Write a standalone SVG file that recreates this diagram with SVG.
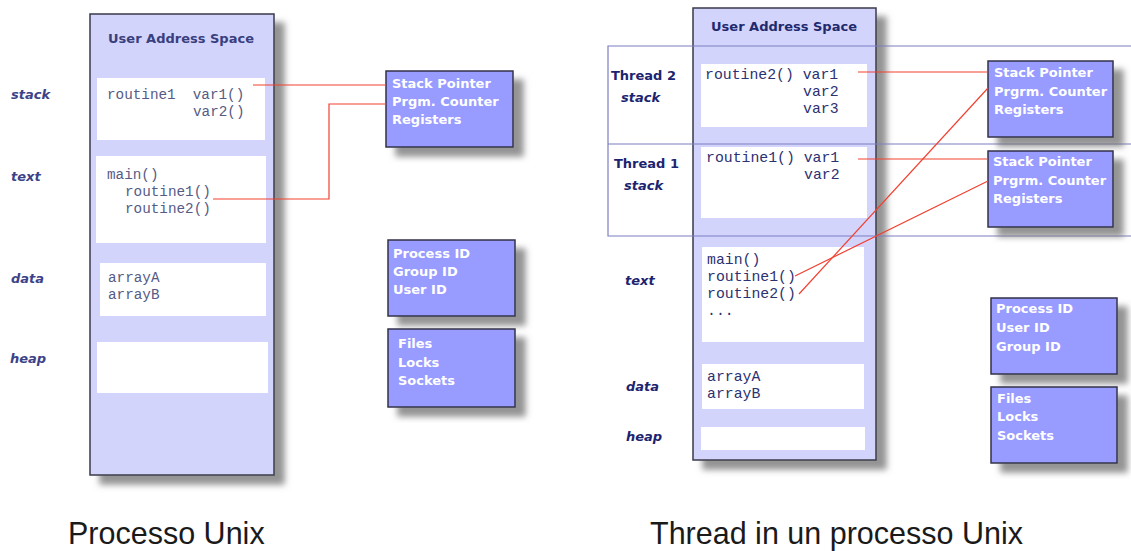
<svg xmlns="http://www.w3.org/2000/svg" width="1131" height="551" viewBox="0 0 1131 551">
  <defs>
    <filter id="shadow" x="-10%" y="-10%" width="130%" height="130%">
      <feDropShadow dx="10" dy="9" stdDeviation="3.2" flood-color="#6f6f6f" flood-opacity="0.75"/>
    </filter>
  </defs>
  <style>
    .space { fill: #d3d4fc; stroke: #3a3a4a; stroke-width: 1.5; }
    .slot { fill: #ffffff; }
    .reg { fill: #989bff; stroke: #33334a; stroke-width: 1.5; }
    .title { font-family: "DejaVu Sans", Verdana, sans-serif; font-weight: bold; font-size: 13px; text-anchor: middle; }
    .seg { font-family: "DejaVu Sans", Verdana, sans-serif; font-weight: bold; font-style: italic; font-size: 13px; }
    .thr { font-family: "DejaVu Sans", Verdana, sans-serif; font-weight: bold; font-size: 13px; fill: #1c2470; }
    .code { font-family: "Liberation Mono", "Courier New", monospace; }
    .regtxt { font-family: "DejaVu Sans", Verdana, sans-serif; font-weight: bold; font-size: 13px; fill: #ffffff; }
    .cap { font-family: "Liberation Sans", Arial, sans-serif; font-size: 30.5px; fill: #1a1a1a; }
    .link { fill: none; stroke: #f2402f; stroke-width: 1.2; }
    .frame { fill: none; stroke: #7c7fc0; stroke-width: 1.2; }
  </style>

  <!-- ===== Single-threaded process ===== -->
  <g id="proc-space">
    <rect class="space" x="90" y="14" width="184" height="461" filter="url(#shadow)"/>
    <text class="title" x="181" y="43" fill="#393f7e">User Address Space</text>
  </g>
  <g id="proc-stack">
    <rect class="slot" x="97" y="78" width="168" height="62"/>
    <text class="code" font-size="14.3" fill="#565b84" x="107" y="99" xml:space="preserve">routine1  var1()</text>
    <text class="code" font-size="14.3" fill="#565b84" x="193" y="116">var2()</text>
  </g>
  <g id="proc-text">
    <rect class="slot" x="96" y="156" width="170" height="87"/>
    <text class="code" font-size="14.3" fill="#565b84" x="107" y="179">main()</text>
    <text class="code" font-size="14.3" fill="#565b84" x="125" y="196">routine1()</text>
    <text class="code" font-size="14.3" fill="#565b84" x="125" y="213">routine2()</text>
  </g>
  <g id="proc-data">
    <rect class="slot" x="100" y="263" width="166" height="53"/>
    <text class="code" font-size="14.3" fill="#565b84" x="108" y="282">arrayA</text>
    <text class="code" font-size="14.3" fill="#565b84" x="108" y="299">arrayB</text>
  </g>
  <g id="proc-heap">
    <rect class="slot" x="97" y="342" width="171" height="51"/>
  </g>
  <g id="proc-labels" fill="#3c4288">
    <text class="seg" x="11" y="99">stack</text>
    <text class="seg" x="11" y="181">text</text>
    <text class="seg" x="11" y="283">data</text>
    <text class="seg" x="10" y="363">heap</text>
  </g>
  <g id="proc-regs">
    <rect class="reg" x="386" y="71" width="127" height="76" filter="url(#shadow)"/>
    <text class="regtxt" x="392" y="88">Stack Pointer</text>
    <text class="regtxt" x="392" y="106">Prgm. Counter</text>
    <text class="regtxt" x="392" y="124">Registers</text>
  </g>
  <g id="proc-ids">
    <rect class="reg" x="388" y="240" width="127" height="76" filter="url(#shadow)"/>
    <text class="regtxt" x="393" y="258">Process ID</text>
    <text class="regtxt" x="393" y="276">Group ID</text>
    <text class="regtxt" x="393" y="294">User ID</text>
  </g>
  <g id="proc-res">
    <rect class="reg" x="388" y="329" width="127" height="78" filter="url(#shadow)"/>
    <text class="regtxt" x="398" y="348">Files</text>
    <text class="regtxt" x="398" y="367">Locks</text>
    <text class="regtxt" x="398" y="385">Sockets</text>
  </g>
  <g id="proc-links">
    <polyline class="link" points="253,85 386,85"/>
    <polyline class="link" points="213,199 329,199 329,104 386,104"/>
  </g>
  <g id="proc-caption">
    <text class="cap" x="68" y="544">Processo Unix</text>
  </g>

  <!-- ===== Multi-threaded process ===== -->
  <g id="mt-space">
    <rect class="space" x="693" y="8" width="183" height="452" filter="url(#shadow)"/>
    <text class="title" x="784" y="31" fill="#1f2a6e">User Address Space</text>
  </g>
  <g id="mt-frame">
    <path class="frame" d="M1131,46 H608 V236 H1131 M608,144 H1131"/>
  </g>
  <g id="mt-stack2">
    <rect class="slot" x="701" y="64" width="166" height="63"/>
    <text class="code" font-size="14.8" fill="#2b3172" x="705" y="79" xml:space="preserve">routine2() var1</text>
    <text class="code" font-size="14.8" fill="#2b3172" x="803" y="96">var2</text>
    <text class="code" font-size="14.8" fill="#2b3172" x="803" y="113">var3</text>
  </g>
  <g id="mt-stack1">
    <rect class="slot" x="701" y="147" width="166" height="71"/>
    <text class="code" font-size="14.8" fill="#2b3172" x="706" y="162" xml:space="preserve">routine1() var1</text>
    <text class="code" font-size="14.8" fill="#2b3172" x="804" y="179">var2</text>
  </g>
  <g id="mt-text">
    <rect class="slot" x="702" y="247" width="162" height="95"/>
    <text class="code" font-size="14.8" fill="#2b3172" x="707" y="264">main()</text>
    <text class="code" font-size="14.8" fill="#2b3172" x="707" y="281">routine1()</text>
    <text class="code" font-size="14.8" fill="#2b3172" x="707" y="298">routine2()</text>
    <text class="code" font-size="14.8" fill="#2b3172" x="707" y="315">...</text>
  </g>
  <g id="mt-data">
    <rect class="slot" x="702" y="364" width="162" height="45"/>
    <text class="code" font-size="14.8" fill="#2b3172" x="707" y="381">arrayA</text>
    <text class="code" font-size="14.8" fill="#2b3172" x="707" y="398">arrayB</text>
  </g>
  <g id="mt-heap">
    <rect class="slot" x="701" y="427" width="164" height="23"/>
  </g>
  <g id="mt-labels" fill="#1c2470">
    <text class="thr" x="611" y="80">Thread 2</text>
    <text class="seg" x="621" y="102">stack</text>
    <text class="thr" x="614" y="168">Thread 1</text>
    <text class="seg" x="624" y="190">stack</text>
    <text class="seg" x="625" y="285">text</text>
    <text class="seg" x="626" y="391">data</text>
    <text class="seg" x="626" y="441">heap</text>
  </g>
  <g id="mt-regs2">
    <rect class="reg" x="988" y="61" width="125" height="76" filter="url(#shadow)"/>
    <text class="regtxt" x="994" y="77">Stack Pointer</text>
    <text class="regtxt" x="994" y="96">Prgrm. Counter</text>
    <text class="regtxt" x="994" y="114">Registers</text>
  </g>
  <g id="mt-regs1">
    <rect class="reg" x="988" y="151" width="125" height="76" filter="url(#shadow)"/>
    <text class="regtxt" x="993" y="166">Stack Pointer</text>
    <text class="regtxt" x="993" y="185">Prgrm. Counter</text>
    <text class="regtxt" x="993" y="203">Registers</text>
  </g>
  <g id="mt-ids">
    <rect class="reg" x="991" y="298" width="126" height="76" filter="url(#shadow)"/>
    <text class="regtxt" x="996" y="313">Process ID</text>
    <text class="regtxt" x="996" y="332">User ID</text>
    <text class="regtxt" x="996" y="351">Group ID</text>
  </g>
  <g id="mt-res">
    <rect class="reg" x="991" y="387" width="126" height="76" filter="url(#shadow)"/>
    <text class="regtxt" x="997" y="403">Files</text>
    <text class="regtxt" x="997" y="421">Locks</text>
    <text class="regtxt" x="997" y="440">Sockets</text>
  </g>
  <g id="mt-links">
    <line class="link" x1="858" y1="72" x2="988" y2="72"/>
    <line class="link" x1="858" y1="159" x2="988" y2="159"/>
    <line class="link" x1="795" y1="276" x2="988" y2="181"/>
    <line class="link" x1="799" y1="294" x2="988" y2="88"/>
  </g>
  <g id="mt-caption">
    <text class="cap" x="650" y="544">Thread in un processo Unix</text>
  </g>
</svg>
